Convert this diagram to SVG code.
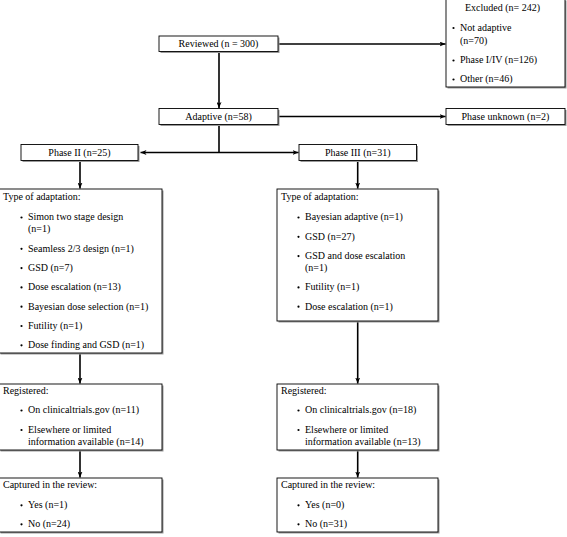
<svg xmlns="http://www.w3.org/2000/svg" width="567" height="537" viewBox="0 0 567 537">
<style>
text{font-family:"Liberation Serif","Times New Roman",serif;font-size:10px;fill:#000}
.c{text-anchor:middle}
.box{fill:#fff;stroke:#000;stroke-width:0.9}
.sh{fill:#9a9a9a}
.ln{fill:none;stroke:#000;stroke-width:1.6}
.b{fill:#000}
</style>
<defs>
<marker id="ah" viewBox="0 0 6 5" refX="6" refY="2.5" markerWidth="6" markerHeight="5" orient="auto" markerUnits="userSpaceOnUse"><path d="M0,0 L6,2.5 L0,5 L1.6,2.5z" fill="#000"/></marker>
</defs>
<g id="connectors">
<line class="ln" x1="219" y1="51.5" x2="219" y2="108" marker-end="url(#ah)"/>
<line class="ln" x1="278" y1="44" x2="445.5" y2="44" marker-end="url(#ah)"/>
<line class="ln" x1="278" y1="116.5" x2="445.5" y2="116.5" marker-end="url(#ah)"/>
<line class="ln" x1="219" y1="124.5" x2="219" y2="152.5"/>
<line class="ln" x1="219" y1="152.5" x2="140.5" y2="152.5" marker-end="url(#ah)"/>
<line class="ln" x1="219" y1="152.5" x2="298.5" y2="152.5" marker-end="url(#ah)"/>
<line class="ln" x1="80" y1="160.5" x2="80" y2="188.5" marker-end="url(#ah)"/>
<line class="ln" x1="357.7" y1="160.5" x2="357.7" y2="188.5" marker-end="url(#ah)"/>
<line class="ln" x1="80" y1="353" x2="80" y2="383.5" marker-end="url(#ah)"/>
<line class="ln" x1="357.7" y1="321" x2="357.7" y2="383.5" marker-end="url(#ah)"/>
<line class="ln" x1="80" y1="450" x2="80" y2="477.5" marker-end="url(#ah)"/>
<line class="ln" x1="357.7" y1="450" x2="357.7" y2="477.5" marker-end="url(#ah)"/>
</g>
<g id="reviewed">
<rect class="sh" x="160.5" y="37.5" width="119" height="15.5"/>
<rect class="box" x="159" y="36" width="119" height="15.5"/>
<text class="c" x="218.5" y="47">Reviewed (n = 300)</text>
</g>
<g id="excluded">
<rect class="sh" x="447.5" y="0.5" width="119" height="88"/>
<rect class="box" x="446" y="-1" width="119" height="88"/>
<text x="465" y="10.5">Excluded (n= 242)</text>
<circle class="b" cx="453.5" cy="28" r="1.1"/>
<text x="460" y="30.8">Not adaptive</text>
<text x="460" y="43.5">(n=70)</text>
<circle class="b" cx="453.5" cy="60.5" r="1.1"/>
<text x="460" y="63.3">Phase I/IV (n=126)</text>
<circle class="b" cx="453.5" cy="79.5" r="1.1"/>
<text x="460" y="82.3">Other (n=46)</text>
</g>
<g id="adaptive">
<rect class="sh" x="160.5" y="110" width="119" height="16"/>
<rect class="box" x="159" y="108.5" width="119" height="16"/>
<text class="c" x="218.5" y="120">Adaptive (n=58)</text>
</g>
<g id="phase-unknown">
<rect class="sh" x="447.5" y="110" width="119" height="16"/>
<rect class="box" x="446" y="108.5" width="119" height="16"/>
<text class="c" x="505.5" y="120">Phase unknown (n=2)</text>
</g>
<g id="phase2">
<rect class="sh" x="22.5" y="146" width="117" height="16"/>
<rect class="box" x="21" y="144.5" width="117" height="16"/>
<text class="c" x="79.5" y="156">Phase II (n=25)</text>
</g>
<g id="phase3">
<rect class="sh" x="300.5" y="146" width="117.5" height="16"/>
<rect class="box" x="299" y="144.5" width="117.5" height="16"/>
<text class="c" x="357.7" y="156">Phase III (n=31)</text>
</g>
<g id="type2">
<rect class="sh" x="0.5" y="190.5" width="163" height="164"/>
<rect class="box" x="-1" y="189" width="163" height="164"/>
<text x="3" y="200">Type of adaptation:</text>
<circle class="b" cx="21.5" cy="217.5" r="1.1"/>
<text x="28" y="220.3">Simon two stage design</text>
<text x="28" y="232.3">(n=1)</text>
<circle class="b" cx="21.5" cy="248.8" r="1.1"/>
<text x="28" y="251.6">Seamless 2/3 design (n=1)</text>
<circle class="b" cx="21.5" cy="268.1" r="1.1"/>
<text x="28" y="270.9">GSD (n=7)</text>
<circle class="b" cx="21.5" cy="287.4" r="1.1"/>
<text x="28" y="290.2">Dose escalation (n=13)</text>
<circle class="b" cx="21.5" cy="306.7" r="1.1"/>
<text x="28" y="309.5">Bayesian dose selection (n=1)</text>
<circle class="b" cx="21.5" cy="326" r="1.1"/>
<text x="28" y="328.8">Futility (n=1)</text>
<circle class="b" cx="21.5" cy="345.3" r="1.1"/>
<text x="28" y="348.1">Dose finding and GSD (n=1)</text>
</g>
<g id="type3">
<rect class="sh" x="278.5" y="190.5" width="161" height="132"/>
<rect class="box" x="277" y="189" width="161" height="132"/>
<text x="281" y="200">Type of adaptation:</text>
<circle class="b" cx="298.5" cy="217.5" r="1.1"/>
<text x="305" y="220.3">Bayesian adaptive (n=1)</text>
<circle class="b" cx="298.5" cy="236.8" r="1.1"/>
<text x="305" y="239.6">GSD (n=27)</text>
<circle class="b" cx="298.5" cy="256.1" r="1.1"/>
<text x="305" y="258.9">GSD and dose escalation</text>
<text x="305" y="270.9">(n=1)</text>
<circle class="b" cx="298.5" cy="287.4" r="1.1"/>
<text x="305" y="290.2">Futility (n=1)</text>
<circle class="b" cx="298.5" cy="306.7" r="1.1"/>
<text x="305" y="309.5">Dose escalation (n=1)</text>
</g>
<g id="registered2">
<rect class="sh" x="0.5" y="385.5" width="163" height="66"/>
<rect class="box" x="-1" y="384" width="163" height="66"/>
<text x="3" y="394">Registered:</text>
<circle class="b" cx="21.5" cy="410.5" r="1.1"/>
<text x="28" y="413.3">On clinicaltrials.gov (n=11)</text>
<circle class="b" cx="21.5" cy="430" r="1.1"/>
<text x="28" y="432.8">Elsewhere or limited</text>
<text x="28" y="444.8">information available (n=14)</text>
</g>
<g id="registered3">
<rect class="sh" x="278.5" y="385.5" width="161" height="66"/>
<rect class="box" x="277" y="384" width="161" height="66"/>
<text x="281" y="394">Registered:</text>
<circle class="b" cx="298.5" cy="410.5" r="1.1"/>
<text x="305" y="413.3">On clinicaltrials.gov (n=18)</text>
<circle class="b" cx="298.5" cy="430" r="1.1"/>
<text x="305" y="432.8">Elsewhere or limited</text>
<text x="305" y="444.8">information available (n=13)</text>
</g>
<g id="captured2">
<rect class="sh" x="0.5" y="479.5" width="163" height="54"/>
<rect class="box" x="-1" y="478" width="163" height="54"/>
<text x="3" y="488.3">Captured in the review:</text>
<circle class="b" cx="21.5" cy="505.3" r="1.1"/>
<text x="28" y="508.1">Yes (n=1)</text>
<circle class="b" cx="21.5" cy="524.3" r="1.1"/>
<text x="28" y="527.1">No (n=24)</text>
</g>
<g id="captured3">
<rect class="sh" x="278.5" y="479.5" width="161" height="54"/>
<rect class="box" x="277" y="478" width="161" height="54"/>
<text x="281" y="488.3">Captured in the review:</text>
<circle class="b" cx="298.5" cy="505.3" r="1.1"/>
<text x="305" y="508.1">Yes (n=0)</text>
<circle class="b" cx="298.5" cy="524.3" r="1.1"/>
<text x="305" y="527.1">No (n=31)</text>
</g>
</svg>
